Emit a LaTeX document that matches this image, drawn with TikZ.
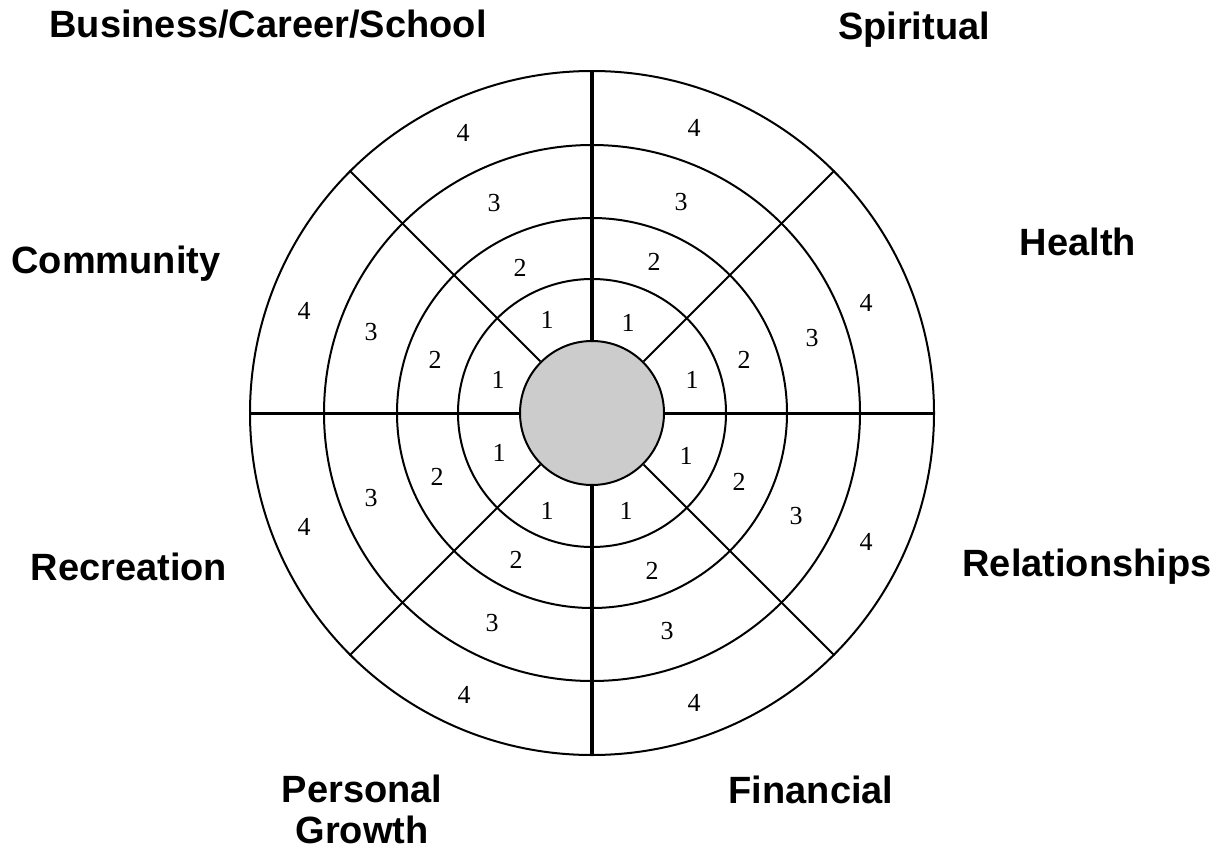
\documentclass[tikz,border=0pt]{standalone}
\usepackage{fontspec}
\setmainfont{Liberation Serif}
\newfontfamily\labfont{Liberation Sans}
\begin{document}
\begin{tikzpicture}[x=1pt,y=-1pt,
  ring/.style={circle,draw,line width=2pt,inner sep=0pt,minimum size=#1},
  divider/.style={line width=2pt},
  mainline/.style={line width=3.5pt},
  num/.style={font=\fontsize{26}{26}\selectfont,inner sep=0pt},
  area/.style={font=\labfont\bfseries\fontsize{38}{41}\selectfont,inner sep=0pt,align=center}]
\useasboundingbox (0,0) rectangle (1225,856);
\coordinate (c) at (592,413);
\node[ring=684pt] (r4) at (c) {};
\node[ring=536pt] (r3) at (c) {};
\node[ring=390pt] (r2) at (c) {};
\node[ring=268pt] (r1) at (c) {};
\node[ring=144pt,fill=black!20] (hub) at (c) {};
% dividers
\draw[mainline] (r4.north) -- (hub.north);
\draw[mainline] (hub.south) -- (r4.south);
\draw[line width=3pt] (r4.west) -- (hub.west);
\draw[line width=3pt] (hub.east) -- (r4.east);
\foreach \a in {45,135,225,315} \draw[divider] (hub.\a) -- (r4.\a);
% numbers: Spiritual
\node[num] (s4) at (694,128) {4};
\node[num] (s3) at (681,202) {3};
\node[num] (s2) at (654,262) {2};
\node[num] (s1) at (628,323) {1};
% Business
\node[num] (b4) at (463,133) {4};
\node[num] (b3) at (494,203) {3};
\node[num] (b2) at (520,268) {2};
\node[num] (b1) at (547,320) {1};
% Health
\node[num] (h4) at (866,303) {4};
\node[num] (h3) at (812,338) {3};
\node[num] (h2) at (744,360) {2};
\node[num] (h1) at (692,380) {1};
% Community
\node[num] (c4) at (304,311) {4};
\node[num] (c3) at (371,332) {3};
\node[num] (c2) at (435,360) {2};
\node[num] (c1) at (498,380) {1};
% Recreation
\node[num] (rc4) at (304,527) {4};
\node[num] (rc3) at (371,498) {3};
\node[num] (rc2) at (437,477) {2};
\node[num] (rc1) at (499,453) {1};
% Relationships
\node[num] (rl4) at (866,542) {4};
\node[num] (rl3) at (796,516) {3};
\node[num] (rl2) at (739,482) {2};
\node[num] (rl1) at (686,456) {1};
% Personal Growth
\node[num] (p4) at (464,695) {4};
\node[num] (p3) at (492,623) {3};
\node[num] (p2) at (516,560) {2};
\node[num] (p1) at (547,511) {1};
% Financial
\node[num] (f4) at (694,703) {4};
\node[num] (f3) at (667,631) {3};
\node[num] (f2) at (652,571) {2};
\node[num] (f1) at (626,511) {1};
% area labels
\node[area] (lbus) at (268,24) {Business/Career/School};
\node[area] (lspi) at (914,30) {Spiritual};
\node[area] (lhea) at (1078,242) {Health};
\node[area] (lcom) at (116,264) {Community};
\node[area] (lrec) at (129,567) {Recreation};
\node[area] (lrel) at (1087,567) {Relationships};
\node[area] (lper) at (362,809) {Personal\\Growth};
\node[area] (lfin) at (811,790) {Financial};
\end{tikzpicture}
\end{document}
